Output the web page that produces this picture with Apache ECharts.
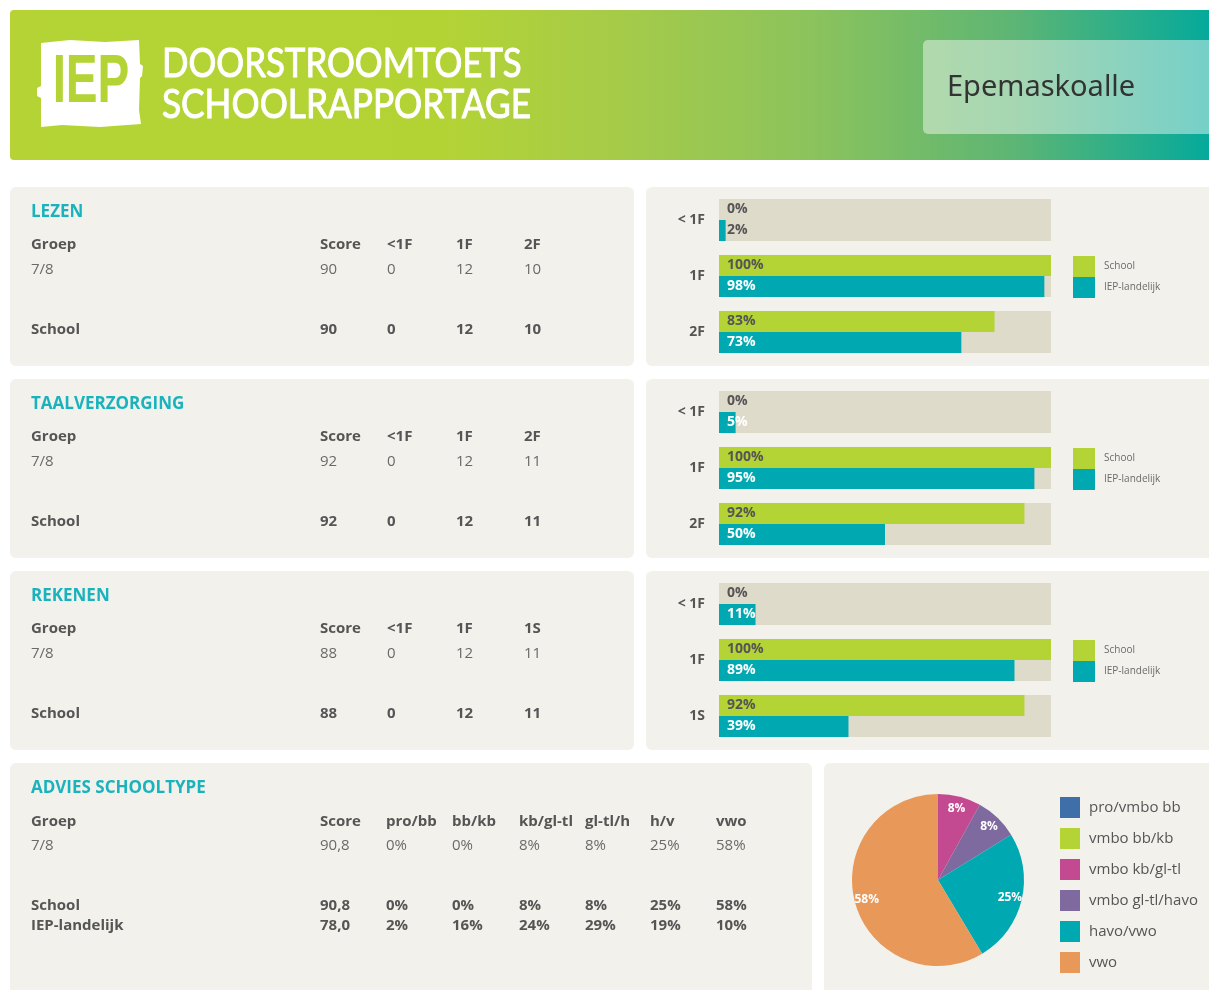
<!DOCTYPE html>
<html>
<head>
<meta charset="utf-8">
<script src="https://cdn.jsdelivr.net/npm/echarts@6/dist/echarts.min.js"></script>
<style>
  html, body { margin: 0; padding: 0; background: #fff; }
  #rapport { width: 1209px; height: 990px; }
</style>
</head>
<body>
<div id="rapport"></div>
<script>
// ---- data ----
const schoolName = 'Epemaskoalle';
const serieNames = ['School', 'IEP-landelijk'];

const lezenCats = ['< 1F', '1F', '2F'];
const lezenSchool = [0, 100, 83];
const lezenIep = [2, 98, 73];

const taalCats = ['< 1F', '1F', '2F'];
const taalSchool = [0, 100, 92];
const taalIep = [5, 95, 50];

const rekenenCats = ['< 1F', '1F', '1S'];
const rekenenSchool = [0, 100, 92];
const rekenenIep = [11, 89, 39];

const lezenHead = ['Groep', 'Score', '<1F', '1F', '2F'];
const lezenGroep = ['7/8', '90', '0', '12', '10'];
const lezenTotaal = ['School', '90', '0', '12', '10'];

const taalHead = ['Groep', 'Score', '<1F', '1F', '2F'];
const taalGroep = ['7/8', '92', '0', '12', '11'];
const taalTotaal = ['School', '92', '0', '12', '11'];

const rekenenHead = ['Groep', 'Score', '<1F', '1F', '1S'];
const rekenenGroep = ['7/8', '88', '0', '12', '11'];
const rekenenTotaal = ['School', '88', '0', '12', '11'];

const adviesHead = ['Groep', 'Score', 'pro/bb', 'bb/kb', 'kb/gl-tl', 'gl-tl/h', 'h/v', 'vwo'];
const adviesGroep = ['7/8', '90,8', '0%', '0%', '8%', '8%', '25%', '58%'];
const adviesSchool = ['School', '90,8', '0%', '0%', '8%', '8%', '25%', '58%'];
const adviesIep = ['IEP-landelijk', '78,0', '2%', '16%', '24%', '29%', '19%', '10%'];

const adviesTypes = ['pro/vmbo bb', 'vmbo bb/kb', 'vmbo kb/gl-tl', 'vmbo gl-tl/havo', 'havo/vwo', 'vwo'];
const adviesValues = [0, 0, 8, 8, 25, 58];

// ---- styles ----
const green = '#b4d334';
const teal = '#00a9b2';
const track = '#dfdbcb';
const panelBg = '#f2f1ec';
const dark = '#555555';
const light = '#6a6a6a';
const titleTeal = '#1ab3bd';
const pieColors = ['#3e6fa8', '#b4d334', '#c34a90', '#7f6aa0', '#00a9b2', '#e8995a'];
const bodyFont = '"Open Sans", sans-serif';

const chart = echarts.init(document.getElementById('rapport'));

const graphics = [];

// header
graphics.push({
  type: 'rect', z: -5,
  shape: { x: 10, y: 10, width: 1210, height: 150, r: 4 },
  style: {
    fill: new echarts.graphic.LinearGradient(0, 0, 1, 0, [
      { offset: 0, color: '#b5d334' },
      { offset: 0.36, color: '#b3d335' },
      { offset: 0.5, color: '#a6cb48' },
      { offset: 0.66, color: '#8cc35c' },
      { offset: 0.83, color: '#5db574' },
      { offset: 1, color: '#00a99d' }
    ])
  }
});
graphics.push({
  type: 'polygon', z: -4,
  shape: { points: [[41, 43], [70, 40], [105, 42], [139, 40], [140, 64], [143, 66], [142, 76], [140, 78], [139, 110], [141, 124], [100, 127], [62, 125], [41, 127], [41, 98], [37, 96], [37, 88], [41, 86]] },
  style: { fill: '#fff' }
});
graphics.push({
  type: 'text', x: 91, y: 83, scaleX: 0.7, z: 1,
  style: { text: 'IEP', fill: green, font: 'bold 68px "Liberation Sans", sans-serif', align: 'center', verticalAlign: 'middle' }
});
graphics.push({
  type: 'text', x: 162, y: 64, scaleX: 0.87, z: 1,
  style: { text: 'DOORSTROOMTOETS', fill: '#fff', stroke: '#fff', lineWidth: 1, font: '40px Lato, sans-serif', verticalAlign: 'middle' }
});
graphics.push({
  type: 'text', x: 162, y: 105, scaleX: 0.88, z: 1,
  style: { text: 'SCHOOLRAPPORTAGE', fill: '#fff', stroke: '#fff', lineWidth: 1, font: '40px Lato, sans-serif', verticalAlign: 'middle' }
});
graphics.push({
  type: 'rect', z: -3,
  shape: { x: 923, y: 40, width: 300, height: 94, r: 5 },
  style: { fill: 'rgba(255,255,255,0.45)' }
});
graphics.push({
  type: 'text', x: 947, y: 88, z: 1,
  style: { text: schoolName, fill: '#333', font: '29px "Noto Sans", sans-serif', verticalAlign: 'middle' }
});

// panels
[
  [10, 187, 624, 179], [10, 379, 624, 179], [10, 571, 624, 179], [10, 763, 802, 240],
  [646, 187, 580, 179], [646, 379, 580, 179], [646, 571, 580, 179], [824, 763, 400, 240]
].forEach(p => {
  graphics.push({
    type: 'rect', z: -5,
    shape: { x: p[0], y: p[1], width: p[2], height: p[3], r: 6 },
    style: { fill: panelBg }
  });
});

function row(cells, cols, y, bold) {
  cells.forEach((t, i) => {
    graphics.push({
      type: 'text', x: cols[i], y: y, z: 1,
      style: {
        text: t, fill: bold ? dark : light, verticalAlign: 'middle',
        font: (bold ? 'bold ' : '') + '15px ' + bodyFont
      }
    });
  });
}
function title(t, y) {
  graphics.push({
    type: 'text', x: 31, y: y, z: 1,
    style: { text: t, fill: titleTeal, font: 'bold 17px ' + bodyFont, verticalAlign: 'middle' }
  });
}

const cols = [31, 320, 387, 456, 524];
const tables = [
  ['LEZEN', lezenHead, lezenGroep, lezenTotaal],
  ['TAALVERZORGING', taalHead, taalGroep, taalTotaal],
  ['REKENEN', rekenenHead, rekenenGroep, rekenenTotaal]
];
tables.forEach((t, i) => {
  const top = 187 + i * 192;
  title(t[0], top + 25);
  row(t[1], cols, top + 58, true);
  row(t[2], cols, top + 83, false);
  row(t[3], cols, top + 143, true);
});

const adviesCols = [31, 320, 386, 452, 519, 585, 650, 716];
title('ADVIES SCHOOLTYPE', 788);
row(adviesHead, adviesCols, 822, true);
row(adviesGroep, adviesCols, 846, false);
row(adviesSchool, adviesCols, 906, true);
row(adviesIep, adviesCols, 926, true);

// bar charts
const barSets = [
  [lezenCats, lezenSchool, lezenIep],
  [taalCats, taalSchool, taalIep],
  [rekenenCats, rekenenSchool, rekenenIep]
];
const grids = [], xAxes = [], yAxes = [], series = [], legends = [];
barSets.forEach((b, i) => {
  const top = 192 + i * 192;
  grids.push({ left: 719, top: top, width: 332, height: 168 });
  xAxes.push({ type: 'value', gridIndex: i, min: 0, max: 100, show: false });
  yAxes.push({
    type: 'category', gridIndex: i, data: b[0], inverse: true,
    axisLine: { show: false }, axisTick: { show: false }, splitLine: { show: false },
    axisLabel: { color: dark, fontWeight: 'bold', fontSize: 14, fontFamily: bodyFont, margin: 14 }
  });
  const common = {
    type: 'bar', xAxisIndex: i, yAxisIndex: i, barWidth: 21, barGap: '0%', silent: true,
    showBackground: true, backgroundStyle: { color: track }
  };
  series.push(Object.assign({}, common, {
    name: serieNames[0], data: b[1],
    itemStyle: { color: green },
    label: { show: true, position: 'insideLeft', distance: 8, formatter: '{c}%', color: dark, fontWeight: 'bold', fontSize: 14, fontFamily: bodyFont }
  }));
  series.push(Object.assign({}, common, {
    name: serieNames[1],
    data: b[2].map(v => v < 3 ? { value: v, label: { color: dark } } : v),
    itemStyle: { color: teal },
    label: { show: true, position: 'insideLeft', distance: 8, formatter: '{c}%', color: '#fff', fontWeight: 'bold', fontSize: 14, fontFamily: bodyFont }
  }));
  legends.push({
    data: serieNames, orient: 'vertical', left: 1073, top: 256 + i * 192, padding: 0,
    itemWidth: 22, itemHeight: 21, itemGap: 0, icon: 'rect', selectedMode: false,
    textStyle: { color: light, fontSize: 10, fontFamily: bodyFont, padding: [0, 0, 0, 4] }
  });
});

// pie
const pieData = adviesTypes.map((n, i) => ({ name: n, value: adviesValues[i], itemStyle: { color: pieColors[i] } }));
series.push({
  type: 'pie', name: 'Advies', center: [938, 880], radius: 86, startAngle: 90, clockwise: true,
  silent: true, label: { show: false }, labelLine: { show: false }, data: pieData
});
series.push({
  type: 'pie', name: 'AdviesLabels', center: [938, 880], radius: [56, 86], startAngle: 90, clockwise: true,
  silent: true, itemStyle: { color: 'rgba(0,0,0,0)' },
  label: {
    show: true, position: 'inside', color: '#fff', fontWeight: 'bold', fontSize: 12, fontFamily: bodyFont,
    formatter: p => p.value > 0 ? p.value + '%' : ''
  },
  labelLine: { show: false },
  data: adviesTypes.map((n, i) => ({ name: n, value: adviesValues[i] }))
});
legends.push({
  data: adviesTypes, orient: 'vertical', left: 1060, top: 797, padding: 0,
  itemWidth: 20, itemHeight: 21, itemGap: 10, icon: 'rect', selectedMode: false,
  textStyle: { color: dark, fontSize: 15, fontFamily: bodyFont, padding: [0, 0, 0, 4] }
});

chart.setOption({
  animation: false,
  backgroundColor: '#fff',
  graphic: { elements: graphics },
  grid: grids,
  xAxis: xAxes,
  yAxis: yAxes,
  legend: legends,
  series: series
});

window.addEventListener('resize', function () {
  chart.resize();
});
</script>
</body>
</html>
